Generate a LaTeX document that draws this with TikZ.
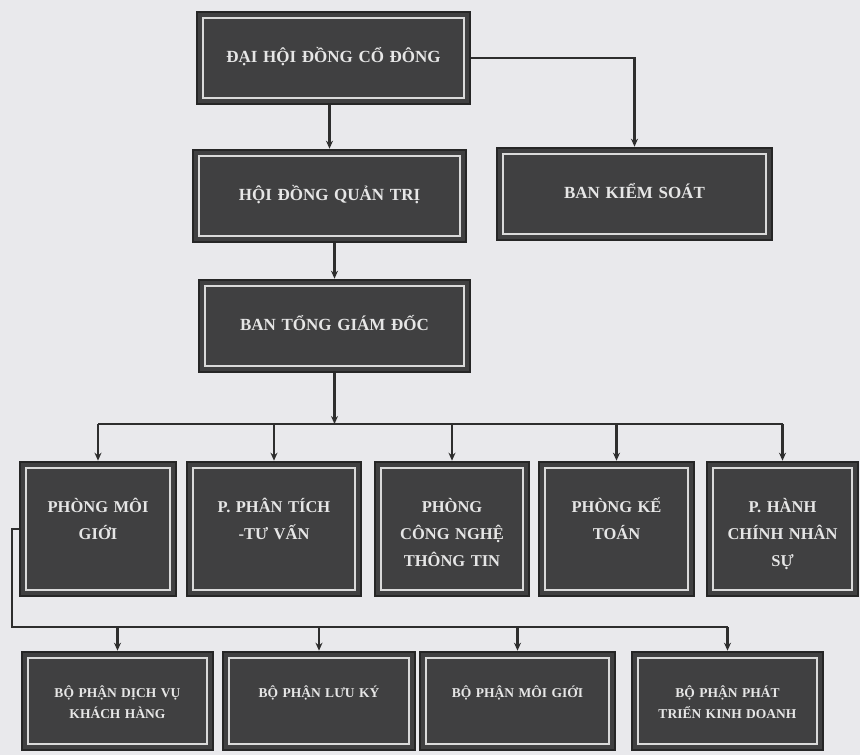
\documentclass[tikz,border=0pt]{standalone}
\usepackage{fontspec}
\setmainfont{Liberation Serif}
\usetikzlibrary{arrows.meta}
\definecolor{bgcol}{HTML}{E9E9EC}
\definecolor{boxfill}{HTML}{404041}
\definecolor{boxline}{HTML}{262626}
\definecolor{framecol}{HTML}{DADADA}
\definecolor{boxtext}{HTML}{E6E6E6}
\definecolor{linkcol}{HTML}{2E2E2E}
\begin{document}
\begin{tikzpicture}[x=1pt, y=-1pt,
	box/.style={draw=boxline, line width=2.6pt, fill=boxfill, text=boxtext, inner sep=0pt, align=center,
		path picture={\draw[framecol, line width=1.6pt] ([shift={(6pt,-6pt)}]path picture bounding box.north west) rectangle ([shift={(-6pt,6pt)}]path picture bounding box.south east);}},
	topbox/.style={box, text width=250pt, text height=50pt, text depth=42pt, font=\fontsize{17}{27}\selectfont\bfseries},
	midbox/.style={box, text width=#1, text height=50pt, text depth=84pt, font=\fontsize{16.5}{27}\selectfont\bfseries},
	lowbox/.style={box, text width=#1, text height=45pt, text depth=53pt, font=\fontsize{13.5}{21}\selectfont\bfseries},
	line/.style={draw=linkcol, line width=2.2pt},
	link/.style={line, -{Stealth[length=8pt,width=7pt]}}]
	\fill[bgcol] (0,0) rectangle (860,755);
	\useasboundingbox (0,0) rectangle (860,755);

	\node[topbox, minimum width=273pt] (dhdcd) at (333.5,58) {ĐẠI HỘI ĐỒNG CỔ ĐÔNG};
	\node[topbox, minimum width=273pt] (hdqt) at (329.5,196) {HỘI ĐỒNG QUẢN TRỊ};
	\node[topbox, minimum width=275pt] (bks) at (634.5,194) {BAN KIỂM SOÁT};
	\node[topbox, minimum width=271pt] (btgd) at (334.5,326) {BAN TỔNG GIÁM ĐỐC};

	\node[midbox=156pt] (pmg) at (98,529) {PHÒNG MÔI\\GIỚI};
	\node[midbox=174pt] (pptv) at (274,529) {P. PHÂN TÍCH\\-TƯ VẤN};
	\node[midbox=154pt] (pcntt) at (452,529) {PHÒNG\\CÔNG NGHỆ\\THÔNG TIN};
	\node[midbox=155pt] (pkt) at (616.5,529) {PHÒNG KẾ\\TOÁN};
	\node[midbox=151pt] (phcns) at (782.5,529) {P. HÀNH\\CHÍNH NHÂN\\SỰ};

	\node[lowbox=191pt] (bpdv) at (117.5,701) {BỘ PHẬN DỊCH VỤ\\KHÁCH HÀNG};
	\node[lowbox=192pt] (bplk) at (319,701) {BỘ PHẬN LƯU KÝ};
	\node[lowbox=195pt] (bpmg) at (517.5,701) {BỘ PHẬN MÔI GIỚI};
	\node[lowbox=191pt] (bpptkd) at (727.5,701) {BỘ PHẬN PHÁT\\TRIỂN KINH DOANH};

	\coordinate (busA) at (0,424);
	\coordinate (busB) at (12,627);

	\draw[link] (hdqt.north |- dhdcd.south) -- (hdqt.north);
	\draw[link] (dhdcd.east) -| (bks.north);
	\draw[link] (hdqt.south -| btgd.north) -- (btgd.north);
	\draw[link] (btgd.south) -- (btgd.south |- busA);
	\draw[line] (pmg.north |- busA) -- (phcns.north |- busA);
	\foreach \dept in {pmg, pptv, pcntt, pkt, phcns}
		\draw[link] (\dept.north |- busA) -- (\dept.north);
	\draw[line] (pmg.west) -| (busB) -- (bpptkd.north |- busB);
	\foreach \unit in {bpdv, bplk, bpmg, bpptkd}
		\draw[link] (\unit.north |- busB) -- (\unit.north);
\end{tikzpicture}
\end{document}
